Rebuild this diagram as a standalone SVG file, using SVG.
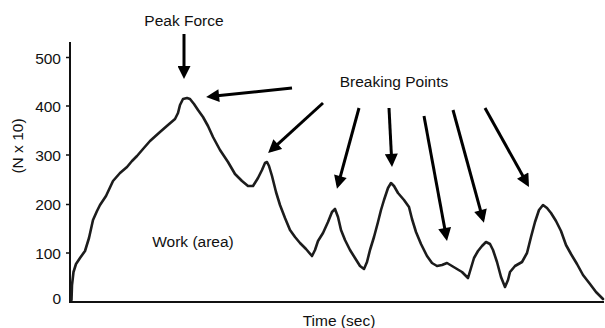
<svg xmlns="http://www.w3.org/2000/svg" width="605" height="328" viewBox="0 0 605 328">
<style>
text{font-family:"Liberation Sans",Arial,sans-serif;font-size:15.5px;fill:#111}
.tick{text-anchor:end}
.axis{stroke:#111;stroke-width:2;fill:none}
.tk{stroke:#111;stroke-width:1.5}
.curve{stroke:#1c1c1c;stroke-width:2.6;fill:none;stroke-linejoin:round;stroke-linecap:round}
.arr{stroke:#000;stroke-width:3;fill:none;marker-end:url(#ah)}
</style>
<defs>
<marker id="ah" viewBox="0 0 10 10" refX="7" refY="5" markerWidth="14" markerHeight="13" markerUnits="userSpaceOnUse" orient="auto">
<path d="M0,0 L10,5 L0,10 z" fill="#000"/>
</marker>
</defs>
<g id="axes">
<path class="axis" d="M70,42 V302 H604"/>
<path class="tk" d="M66,57.5H70M66,106H70M66,155H70M66,204.5H70M66,253H70"/>
<text class="tick" x="61" y="64">500</text>
<text class="tick" x="61" y="112">400</text>
<text class="tick" x="61" y="161">300</text>
<text class="tick" x="61" y="210">200</text>
<text class="tick" x="61" y="259">100</text>
<text class="tick" x="61" y="304">0</text>
<text x="19" y="146" transform="rotate(-90 19 146)" text-anchor="middle" dominant-baseline="middle">(N x 10)</text>
<text x="339" y="326" text-anchor="middle">Time (sec)</text>
</g>
<g id="curve">
<polyline class="curve" points="71.5,300 72,285 73.5,272 76,264 80,258 85,251 89,238 93,220 97,211 100,205 106,196 113,181 120,173 127,167 132,161 137,156 143,149 150,141 160,132 168,125 175,119 178,113 180,105 183,99 187,98 190,99 194,104 198,110 203,117 208,126 213,137 220,150 228,162 235,174 242,181 248,186 253,186 258,178 262,170 265,163 267,162 269,166 272,176 276,192 280,205 285,218 290,230 295,237 300,243 306,249 312,256 315,250 318,241 323,233 328,222 332,212 335,209 338,217 341,230 345,240 350,250 355,258 360,266 364,269 367,262 370,250 374,237 378,222 381,210 384,200 388,188 391,183 394,186 398,193 404,200 409,207 412,219 416,232 421,244 427,256 432,263 437,266 442,265 447,263 452,266 457,269 462,272 466,276 468,278 471,268 474,258 478,251 482,246 486,242 490,244 493,250 497,262 501,277 505,287 508,280 510,272 515,266 522,262 527,253 531,237 535,222 539,210 543,205 547,208 551,213 556,221 561,231 566,245 571,254 577,264 583,275 590,284 596,292 603,299"/>
</g>
<g id="label-peak"><text x="184" y="26" text-anchor="middle">Peak Force</text></g>
<g id="label-breaking"><text x="394" y="87" text-anchor="middle">Breaking Points</text></g>
<g id="label-work"><text x="193" y="247" text-anchor="middle">Work (area)</text></g>
<g id="connectors">
<line class="arr" x1="184" y1="34" x2="184" y2="75"/>
<line class="arr" x1="292" y1="88" x2="210" y2="96.6"/>
<line class="arr" x1="323" y1="103" x2="271" y2="150.3"/>
<line class="arr" x1="359" y1="108" x2="338" y2="185.1"/>
<line class="arr" x1="389" y1="108" x2="391.8" y2="163"/>
<line class="arr" x1="424" y1="116" x2="446.3" y2="237.1"/>
<line class="arr" x1="453" y1="110" x2="482.9" y2="219.1"/>
<line class="arr" x1="485" y1="108" x2="527.1" y2="183.5"/>
</g>
</svg>
